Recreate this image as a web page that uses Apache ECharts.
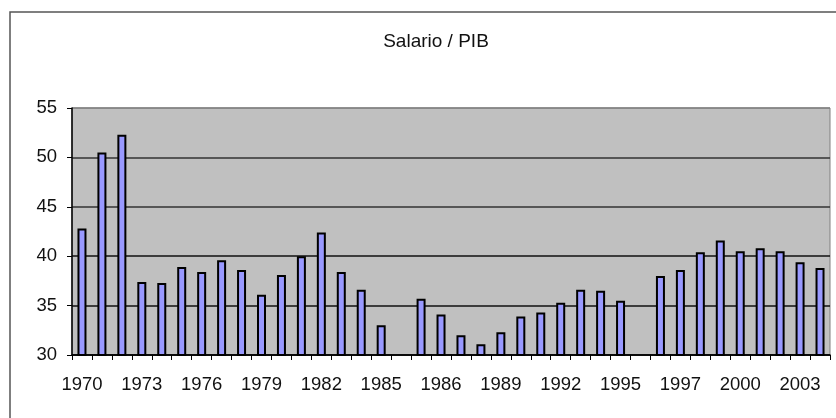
<!DOCTYPE html>
<html>
<head>
<meta charset="utf-8">
<script src="https://cdn.jsdelivr.net/npm/echarts@6/dist/echarts.min.js"></script>
<style>html,body{margin:0;padding:0;background:#fff}#c{width:836px;height:418px}</style>
</head>
<body>
<div id="c"></div>
<script>
var chartTitle = 'Salario / PIB';
var categories = ['1970','1971','1972','1973','1974','1975','1976','1977','1978','1979','1980','1981','1982','1983','1984','1985',
  '',
  '1985','1986','1987','1988','1989','1990','1991','1992','1993','1994','1995',
  '',
  '1996','1997','1998','1999','2000','2001','2002','2003','2004'];
var values = [42.8,50.5,52.3,37.4,37.3,38.9,38.4,39.6,38.6,36.1,38.1,40.0,42.4,38.4,36.6,33.0,
  '-',
  35.7,34.1,32.0,31.1,32.3,33.9,34.3,35.3,36.6,36.5,35.5,
  '-',
  38.0,38.6,40.4,41.6,40.5,40.8,40.5,39.4,38.8];
var yMin = 30, yMax = 55, yStep = 5;

var chart = echarts.init(document.getElementById('c'), null, {renderer: 'canvas'});
chart.setOption({
  animation: false,
  backgroundColor: '#fff',
  textStyle: {fontFamily: 'Liberation Sans, Arial, sans-serif'},
  title: {
    text: chartTitle,
    left: 431,
    top: 27,
    textAlign: 'center',
    textStyle: {fontSize: 19, fontWeight: 'normal', color: '#111', fontFamily: 'Liberation Sans, Arial, sans-serif'}
  },
  graphic: [{
    type: 'rect',
    shape: {x: 10, y: 12, width: 900, height: 500},
    style: {fill: null, stroke: '#555', lineWidth: 1.5},
    silent: true,
    z: -1
  }],
  grid: {
    left: 72, top: 108, right: 6, bottom: 63,
    show: true,
    backgroundColor: '#C0C0C0',
    borderColor: '#808080',
    borderWidth: 1
  },
  xAxis: {
    type: 'category',
    data: categories,
    boundaryGap: true,
    axisLine: {show: true, lineStyle: {color: '#000', width: 1.5}},
    axisTick: {show: true, interval: 0, length: 5, lineStyle: {color: '#000'}},
    axisLabel: {interval: 2, margin: 20, fontSize: 18.5, color: '#111', fontFamily: 'Liberation Sans, Arial, sans-serif'},
    splitLine: {show: false}
  },
  yAxis: {
    type: 'value',
    min: yMin, max: yMax, interval: yStep,
    axisLine: {show: true, lineStyle: {color: '#000', width: 1.5}},
    axisTick: {show: true, length: 5, lineStyle: {color: '#000'}},
    axisLabel: {margin: 15, fontSize: 18.5, color: '#111', fontFamily: 'Liberation Sans, Arial, sans-serif'},
    splitLine: {show: true, lineStyle: {color: ['#000', '#111', '#111', '#333', '#333', '#808080'], width: 1.5}}
  },
  series: [{
    type: 'bar',
    data: values,
    barWidth: 9,
    itemStyle: {color: '#9999FF', borderColor: '#000', borderWidth: 2}
  }]
});
</script>
</body>
</html>
